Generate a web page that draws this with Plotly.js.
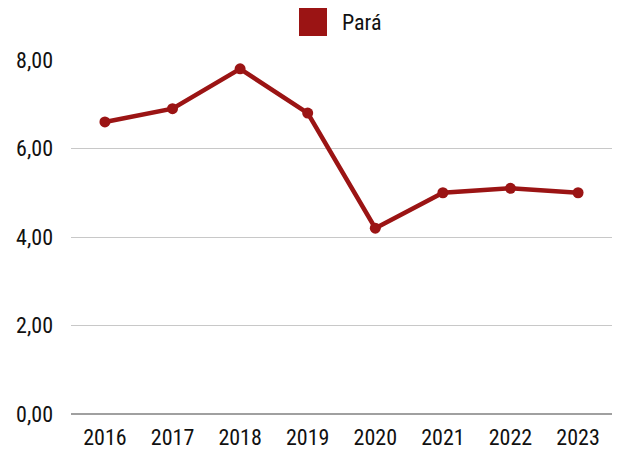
<!DOCTYPE html>
<html><head><meta charset="utf-8">
<script src="https://cdn.plot.ly/plotly-3.0.1.min.js"></script>
<style>body{margin:0;padding:0;background:#fff}#c{width:621px;height:454px}</style>
</head><body><div id="c"></div>
<script>
var years = ['2016','2017','2018','2019','2020','2021','2022','2023'];
var para = [6.6, 6.9, 7.8, 6.8, 4.2, 5.0, 5.1, 5.0];
var seriesName = 'Pará';
var yTicks = [0, 2, 4, 6, 8];
var yTickText = ['0,00','2,00','4,00','6,00','8,00'];
var color = '#9b1414';
var fontFam = '"Roboto Condensed", "Liberation Sans Narrow", Roboto, sans-serif';

var trace = {
  x: years, y: para, type: 'scatter', mode: 'lines+markers', name: seriesName,
  line: {color: color, width: 4.5}, marker: {color: color, size: 11}, showlegend: false,
  hoverinfo: 'x+y'
};
var layout = {
  width: 621, height: 454,
  margin: {l: 71, r: 9, t: 60, b: 40},
  paper_bgcolor: '#fff', plot_bgcolor: '#fff',
  font: {family: fontFam, size: 22, color: '#111', weight: 400},
  showlegend: false,
  xaxis: {type: 'category', showgrid: false, zeroline: false, showline: false, ticks: '', ticklabelstandoff: 8, tickfont: {size: 22, weight: 400}},
  yaxis: {range: [0, 8], tickvals: yTicks, ticktext: yTickText, showgrid: true, gridcolor: '#c8c8c8', gridwidth: 1,
          zeroline: true, zerolinecolor: '#a0a0a0', zerolinewidth: 1.5, showline: false, ticks: '', ticklabelstandoff: 17, tickfont: {size: 22, weight: 400}},
  shapes: [{type: 'rect', xref: 'paper', yref: 'paper', x0: (299-71)/541, x1: (327-71)/541, y0: (414-36)/354, y1: (414-8)/354,
            fillcolor: color, line: {width: 0}}],
  annotations: [{text: seriesName, xref: 'paper', yref: 'paper', x: (340-71)/541, y: (414-22)/354, xanchor: 'left', yanchor: 'middle',
                 showarrow: false, font: {family: fontFam, size: 22, color: '#111', weight: 400}}]
};
Plotly.newPlot('c', [trace], layout, {displayModeBar: false, staticPlot: true});
</script></body></html>
